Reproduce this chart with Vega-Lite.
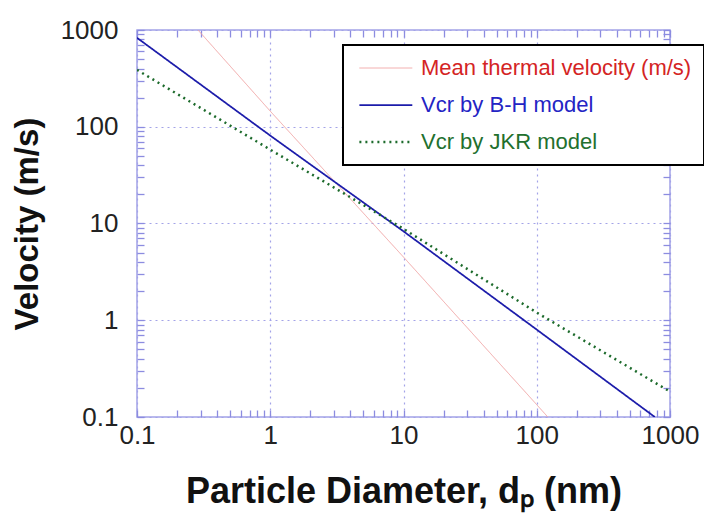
{
  "$schema": "https://vega.github.io/schema/vega-lite/v6.json",
  "width": 533,
  "height": 387,
  "autosize": {"type": "none"},
  "padding": {"left": 137, "top": 30, "right": 34, "bottom": 112},
  "background": "white",
  "config": {
    "view": {"stroke": "#a3a3e8", "strokeWidth": 1.5},
    "font": "Liberation Sans",
    "axis": {"ticks": true, "tickColor": "#8c8ce0", "tickWidth": 1.3, "tickOpacity": 1}
  },
  "data": {
    "values": [
      {"d": 0.287, "v": 1000, "series": "Mean thermal velocity (m/s)"},
      {"d": 1, "v": 145, "series": "Mean thermal velocity (m/s)"},
      {"d": 10, "v": 4.5, "series": "Mean thermal velocity (m/s)"},
      {"d": 100, "v": 0.134, "series": "Mean thermal velocity (m/s)"},
      {"d": 121, "v": 0.1, "series": "Mean thermal velocity (m/s)"},
      {"d": 0.1, "v": 830, "series": "Vcr by B-H model"},
      {"d": 1, "v": 81, "series": "Vcr by B-H model"},
      {"d": 10, "v": 8.3, "series": "Vcr by B-H model"},
      {"d": 100, "v": 0.8, "series": "Vcr by B-H model"},
      {"d": 769, "v": 0.1, "series": "Vcr by B-H model"},
      {"d": 0.1, "v": 387, "series": "Vcr by JKR model"},
      {"d": 1, "v": 58, "series": "Vcr by JKR model"},
      {"d": 10, "v": 8.8, "series": "Vcr by JKR model"},
      {"d": 100, "v": 1.2, "series": "Vcr by JKR model"},
      {"d": 1000, "v": 0.183, "series": "Vcr by JKR model"}
    ]
  },
  "resolve": {"axis": {"x": "independent", "y": "independent"}},
  "layer": [
    {
      "mark": {"type": "line", "clip": true},
      "encoding": {
        "x": {
          "field": "d", "type": "quantitative",
          "scale": {"type": "log", "domain": [0.1, 1000], "nice": false},
          "axis": {
            "orient": "bottom",
            "offset": -7,
            "title": "Particle Diameter, dₚ (nm)",
            "titleFont": "Liberation Sans", "titleFontSize": 36, "titleFontWeight": "bold", "titleColor": "#111",
            "titlePadding": 26,
            "values": [0.1,0.2,0.3,0.4,0.5,0.6,0.7,0.8,0.9,1,2,3,4,5,6,7,8,9,10,20,30,40,50,60,70,80,90,100,200,300,400,500,600,700,800,900,1000],
            "format": "~g",
            "labelExpr": "abs(log(datum.value)/LN10 - round(log(datum.value)/LN10)) < 0.000001 ? datum.label : ''",
            "labelFontSize": 26, "labelColor": "#222", "labelPadding": 5, "labelFlush": false, "labelOverlap": false,
            "domain": false,
            "tickSize": 7,
            "grid": true, "gridColor": "#a3a3e8", "gridDash": [2, 4], "gridWidth": 1.2,
            "gridOpacity": {"condition": {"test": "abs(log(datum.value)/LN10 - round(log(datum.value)/LN10)) < 0.000001", "value": 1}, "value": 0}
          }
        },
        "y": {
          "field": "v", "type": "quantitative",
          "scale": {"type": "log", "domain": [0.1, 1000], "nice": false},
          "axis": {
            "orient": "left",
            "offset": -7,
            "title": "Velocity (m/s)",
            "titleFont": "Liberation Sans", "titleFontSize": 33, "titleFontWeight": "bold", "titleColor": "#111",
            "titlePadding": 16,
            "values": [0.1,0.2,0.3,0.4,0.5,0.6,0.7,0.8,0.9,1,2,3,4,5,6,7,8,9,10,20,30,40,50,60,70,80,90,100,200,300,400,500,600,700,800,900,1000],
            "format": "~g",
            "labelExpr": "abs(log(datum.value)/LN10 - round(log(datum.value)/LN10)) < 0.000001 ? datum.label : ''",
            "labelFontSize": 26, "labelColor": "#222", "labelPadding": 19, "labelFlush": false, "labelOverlap": false,
            "domain": false,
            "tickSize": 7,
            "grid": true, "gridColor": "#a3a3e8", "gridDash": [2, 4], "gridWidth": 1.2,
            "gridOpacity": {"condition": {"test": "abs(log(datum.value)/LN10 - round(log(datum.value)/LN10)) < 0.000001", "value": 1}, "value": 0}
          }
        },
        "color": {
          "field": "series", "type": "nominal",
          "scale": {
            "domain": ["Mean thermal velocity (m/s)", "Vcr by B-H model", "Vcr by JKR model"],
            "range": ["#f2a6a6", "#1c1caa", "#1d6b2c"]
          },
          "legend": {
            "orient": "none", "legendX": 206, "legendY": 15,
            "title": null,
            "symbolType": "M-1,0H7", "symbolSize": 175, "symbolStrokeWidth": 2,
            "labelFont": "Liberation Sans", "labelFontSize": 22, "labelOffset": 44, "labelLimit": 400,
            "rowPadding": 15,
            "padding": 12,
            "fillColor": "white", "strokeColor": "black",
            "encode": {
              "labels": {"update": {"fill": {"signal": "datum.value === 'Mean thermal velocity (m/s)' ? '#d42424' : datum.value === 'Vcr by B-H model' ? '#2424c4' : '#22702e'"}}},
              "legend": {"update": {"strokeWidth": {"value": 2}}}
            }
          }
        },
        "strokeWidth": {
          "field": "series", "type": "nominal",
          "scale": {"domain": ["Mean thermal velocity (m/s)", "Vcr by B-H model", "Vcr by JKR model"], "range": [1, 2.5, 2.5]},
          "legend": null
        },
        "strokeDash": {
          "field": "series", "type": "nominal",
          "scale": {"domain": ["Mean thermal velocity (m/s)", "Vcr by B-H model", "Vcr by JKR model"], "range": [[1, 0], [1, 0], [2, 4]]},
          "legend": null
        }
      }
    },
    {
      "mark": {"type": "line", "opacity": 0},
      "encoding": {
        "x": {
          "field": "d", "type": "quantitative",
          "scale": {"type": "log", "domain": [0.1, 1000], "nice": false},
          "axis": {
            "orient": "top", "offset": -7, "title": null, "labels": false, "domain": false, "grid": false,
            "values": [0.1,0.2,0.3,0.4,0.5,0.6,0.7,0.8,0.9,1,2,3,4,5,6,7,8,9,10,20,30,40,50,60,70,80,90,100,200,300,400,500,600,700,800,900,1000],
            "tickSize": 7
          }
        },
        "y": {
          "field": "v", "type": "quantitative",
          "scale": {"type": "log", "domain": [0.1, 1000], "nice": false},
          "axis": {
            "orient": "right", "offset": -7, "title": null, "labels": false, "domain": false, "grid": false,
            "values": [0.1,0.2,0.3,0.4,0.5,0.6,0.7,0.8,0.9,1,2,3,4,5,6,7,8,9,10,20,30,40,50,60,70,80,90,100,200,300,400,500,600,700,800,900,1000],
            "tickSize": 7
          }
        },
        "detail": {"field": "series", "type": "nominal"}
      }
    }
  ]
}
